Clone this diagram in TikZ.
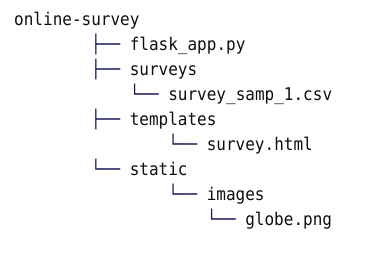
\documentclass[tikz,border=0pt]{standalone}
\usepackage{fontspec}
\setmonofont[FakeStretch=0.915]{DejaVu Sans Mono}
\definecolor{branchcol}{RGB}{20,22,88}
\definecolor{namecol}{RGB}{15,15,15}
\begin{document}
\begin{tikzpicture}[x=1bp,y=-1bp,
  entry/.style={anchor=base west,inner sep=0pt,text=namecol,
    font=\ttfamily\fontsize{17.5bp}{25bp}\selectfont},
  branch/.style={entry,text=branchcol}]
\useasboundingbox[fill=white] (0,0) rectangle (375,258);
% one character cell is about 9.63bp wide; rows are 25bp apart
\def\cw{9.63}
% directory names
\node[entry]  (root)      at (14,25)                 {online-survey};
\node[branch] (b-flask)   at ({14+8*\cw},50)        {├──};
\node[entry]  (flask)     at ({14+12*\cw},50)       {flask\_app.py};
\node[branch] (b-surveys) at ({14+8*\cw},75)        {├──};
\node[entry]  (surveys)   at ({14+12*\cw},75)       {surveys};
\node[branch] (b-csv)     at ({14+12*\cw},100)      {└──};
\node[entry]  (csv)       at ({14+16*\cw},100)      {survey\_samp\_1.csv};
\node[branch] (b-tmpl)    at ({14+8*\cw},125)       {├──};
\node[entry]  (tmpl)      at ({14+12*\cw},125)      {templates};
\node[branch] (b-html)    at ({14+16*\cw},150)      {└──};
\node[entry]  (html)      at ({14+20*\cw},150)      {survey.html};
\node[branch] (b-static)  at ({14+8*\cw},175)       {└──};
\node[entry]  (static)    at ({14+12*\cw},175)      {static};
\node[branch] (b-images)  at ({14+16*\cw},200)      {└──};
\node[entry]  (images)    at ({14+20*\cw},200)      {images};
\node[branch] (b-globe)   at ({14+20*\cw},225)      {└──};
\node[entry]  (globe)     at ({14+24*\cw},225)      {globe.png};
\end{tikzpicture}
\end{document}
